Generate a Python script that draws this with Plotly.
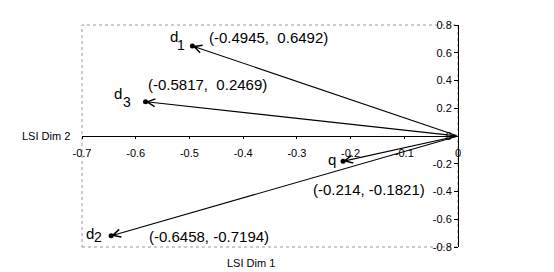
import plotly.graph_objects as go

names = ["d", "d", "d", "q"]
subs = ["1", "3", "2", ""]
dim1 = [-0.4945, -0.5817, -0.6458, -0.214]
dim2 = [0.6492, 0.2469, -0.7194, -0.1821]
coord_labels = ["(-0.4945,  0.6492)", "(-0.5817,  0.2469)", "(-0.6458, -0.7194)", "(-0.214, -0.1821)"]

x_ticks = [-0.7, -0.6, -0.5, -0.4, -0.3, -0.2, -0.1, 0]
x_ticktext = ["-0.7", "-0.6", "-0.5", "-0.4", "-0.3", "-0.2", "-0.1", "0"]
y_ticks = [-0.8, -0.6, -0.4, -0.2, 0, 0.2, 0.4, 0.6, 0.8]
y_ticktext = ["-0.8", "-0.6", "-0.4", "-0.2", "0", "0.2", "0.4", "0.6", "0.8"]

font = "Liberation Sans, Arial, sans-serif"

fig = go.Figure()
fig.add_trace(go.Scatter(x=dim1, y=dim2, mode="markers",
                         marker=dict(color="black", size=5), showlegend=False,
                         hoverinfo="skip"))

ann = []
for x, y in zip(dim1, dim2):
    ann.append(dict(x=x, y=y, ax=0, ay=0, xref="x", yref="y", axref="x", ayref="y",
                    text="", showarrow=True, arrowhead=5, arrowsize=1.4,
                    arrowwidth=1.1, arrowcolor="black"))

# label offsets in pixels relative to points
name_off = [(-18, 9), (-28, 8), (-21, 2), (-11, 2)]
sub_off = [(-11, 1), (-19, 0), (-13, -1), (0, 0)]
coord_off = [(15, 8), (0, 17), (36, -1), (-32, -28)]
for i in range(4):
    ann.append(dict(x=dim1[i], y=dim2[i], xref="x", yref="y", text=names[i],
                    showarrow=False, xanchor="center", yanchor="middle",
                    xshift=name_off[i][0], yshift=name_off[i][1],
                    font=dict(family=font, size=15, color="black")))
    if subs[i]:
        ann.append(dict(x=dim1[i], y=dim2[i], xref="x", yref="y", text=subs[i],
                        showarrow=False, xanchor="center", yanchor="middle",
                        xshift=sub_off[i][0], yshift=sub_off[i][1],
                        font=dict(family=font, size=14, color="black")))
    ann.append(dict(x=dim1[i], y=dim2[i], xref="x", yref="y", text=coord_labels[i],
                    showarrow=False, xanchor="left", yanchor="middle",
                    xshift=coord_off[i][0], yshift=coord_off[i][1],
                    font=dict(family=font, size=15, color="black")))

ann.append(dict(x=0, y=0.5, xref="paper", yref="paper", text="LSI Dim 2",
                showarrow=False, xanchor="right", yanchor="middle", xshift=-10,
                font=dict(family=font, size=11, color="black")))
ann.append(dict(x=0.45, y=0, xref="paper", yref="paper", text="LSI Dim 1",
                showarrow=False, xanchor="center", yanchor="top", yshift=-8,
                font=dict(family=font, size=11, color="black")))

fig.update_layout(
    width=554, height=272,
    margin=dict(l=82, r=96, t=25, b=25),
    paper_bgcolor="white", plot_bgcolor="white",
    annotations=ann,
    shapes=[dict(type="rect", xref="paper", yref="paper", x0=0, x1=1, y0=0, y1=1,
                 line=dict(color="#999999", width=1, dash="dot"), layer="below")],
    xaxis=dict(range=[-0.7, 0], tickvals=x_ticks, ticktext=x_ticktext,
               showgrid=False, zeroline=False, showline=True, linecolor="black",
               linewidth=1, ticks="outside", ticklen=2, tickcolor="black",
               ticklabelstandoff=5,
               anchor="free", position=0.5,
               tickfont=dict(family=font, size=11, color="black")),
    yaxis=dict(range=[-0.8, 0.8], tickvals=y_ticks, ticktext=y_ticktext,
               showgrid=False, zeroline=False, showline=True, linecolor="black",
               linewidth=1, ticks="outside", ticklen=4, tickcolor="black",
               anchor="free", position=1.0, side="left",
               tickfont=dict(family=font, size=11, color="black")),
    font=dict(family=font),
)

fig.write_html("out.html")
